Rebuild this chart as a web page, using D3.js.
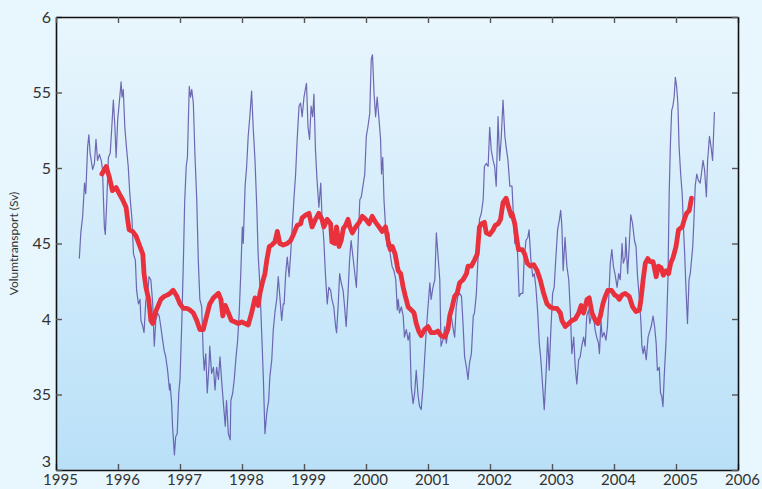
<!DOCTYPE html>
<html>
<head>
<meta charset="utf-8">
<script src="https://cdn.jsdelivr.net/npm/d3@7"></script>
<style>
  html, body { margin: 0; padding: 0; background: #e8f6fd; }
  svg { display: block; }
  .axis text { font-family: Lato, "Open Sans", sans-serif; fill: #333; }
  .axis path { stroke: #111; stroke-width: 1.6; }
  .axis line { stroke: #555; stroke-width: 1.4; }
</style>
</head>
<body>
<div id="chart"></div>
<script>
// daily volume transport (Sv)
var daily = [
  [1995.376,4.40],[1995.40,4.57],[1995.43,4.68],[1995.46,4.90],[1995.48,4.83],[1995.51,5.14],
  [1995.53,5.22],[1995.55,5.10],[1995.59,4.99],[1995.62,5.03],[1995.645,5.19],[1995.67,5.05],
  [1995.70,5.09],[1995.73,5.05],[1995.75,4.99],[1995.78,4.61],[1995.795,4.56],[1995.82,4.79],
  [1995.845,5.07],[1995.875,5.10],[1995.90,5.27],[1995.925,5.45],[1995.95,5.27],[1995.97,5.07],
  [1995.995,5.32],[1996.02,5.43],[1996.05,5.57],[1996.065,5.47],[1996.085,5.52],[1996.11,5.27],
  [1996.14,5.12],[1996.165,5.01],[1996.19,4.83],[1996.225,4.66],[1996.25,4.43],[1996.28,4.39],
  [1996.30,4.19],[1996.33,4.10],[1996.355,4.13],[1996.37,3.99],[1996.40,3.95],[1996.42,3.91],
  [1996.45,4.13],[1996.48,4.17],[1996.50,4.28],[1996.53,4.26],[1996.56,4.10],[1996.585,3.82],
  [1996.61,3.99],[1996.64,4.04],[1996.665,4.02],[1996.69,3.95],[1996.72,3.86],[1996.745,3.79],
  [1996.77,3.75],[1996.80,3.66],[1996.83,3.53],[1996.84,3.57],[1996.865,3.44],[1996.88,3.29],
  [1996.91,3.10],[1996.93,3.22],[1996.955,3.24],[1996.98,3.51],[1997.00,3.60],[1997.03,3.99],
  [1997.055,4.39],[1997.075,4.77],[1997.10,5.01],[1997.12,5.07],[1997.135,5.32],[1997.15,5.54],
  [1997.17,5.47],[1997.19,5.52],[1997.215,5.43],[1997.24,5.10],[1997.27,4.79],[1997.295,4.39],
  [1997.32,4.13],[1997.35,4.08],[1997.375,3.77],[1997.39,3.66],[1997.415,3.77],[1997.44,3.51],
  [1997.47,3.71],[1997.48,3.82],[1997.51,3.64],[1997.54,3.68],[1997.565,3.53],[1997.59,3.68],
  [1997.62,3.60],[1997.645,3.75],[1997.67,3.60],[1997.70,3.44],[1997.73,3.29],[1997.75,3.46],
  [1997.78,3.24],[1997.81,3.20],[1997.82,3.46],[1997.85,3.51],[1997.875,3.60],[1997.90,3.73],
  [1997.93,3.86],[1997.955,4.04],[1997.98,4.30],[1998.005,4.61],[1998.02,4.50],[1998.05,4.88],
  [1998.075,5.01],[1998.10,5.21],[1998.13,5.36],[1998.155,5.51],[1998.18,5.27],[1998.21,5.05],
  [1998.24,4.72],[1998.26,4.43],[1998.29,4.21],[1998.32,3.88],[1998.345,3.60],[1998.37,3.24],
  [1998.40,3.38],[1998.43,3.46],[1998.45,3.62],[1998.48,3.73],[1998.505,3.93],[1998.53,4.04],
  [1998.56,4.13],[1998.585,4.28],[1998.61,4.15],[1998.64,3.99],[1998.665,4.10],[1998.68,4.10],
  [1998.705,4.30],[1998.73,4.41],[1998.76,4.28],[1998.785,4.43],[1998.81,4.61],[1998.84,4.81],
  [1998.865,4.96],[1998.89,5.19],[1998.92,5.41],[1998.945,5.43],[1998.97,5.34],[1999.00,5.47],
  [1999.03,5.54],[1999.04,5.56],[1999.065,5.27],[1999.09,5.19],[1999.115,5.41],[1999.14,5.34],
  [1999.16,5.49],[1999.185,5.12],[1999.21,4.92],[1999.24,4.74],[1999.27,4.90],[1999.29,4.68],
  [1999.32,4.52],[1999.345,4.30],[1999.375,4.10],[1999.40,4.21],[1999.43,4.19],[1999.45,4.13],
  [1999.48,4.08],[1999.51,3.95],[1999.525,3.91],[1999.55,4.08],[1999.575,4.30],[1999.60,4.24],
  [1999.63,4.19],[1999.655,4.08],[1999.68,3.95],[1999.71,4.17],[1999.735,4.39],[1999.76,4.52],
  [1999.79,4.41],[1999.82,4.30],[1999.845,4.21],[1999.87,4.48],[1999.90,4.79],[1999.925,4.81],
  [1999.95,4.88],[1999.98,4.96],[2000.005,5.21],[2000.03,5.27],[2000.06,5.36],[2000.085,5.72],
  [2000.105,5.75],[2000.13,5.49],[2000.155,5.34],[2000.18,5.47],[2000.21,5.32],[2000.235,5.19],
  [2000.25,4.96],[2000.27,5.07],[2000.29,4.79],[2000.315,4.61],[2000.34,4.48],[2000.37,4.57],
  [2000.39,4.43],[2000.42,4.35],[2000.45,4.32],[2000.48,4.26],[2000.505,4.06],[2000.52,4.13],
  [2000.54,4.04],[2000.57,4.08],[2000.60,4.02],[2000.62,3.88],[2000.65,3.93],[2000.68,3.86],
  [2000.705,3.91],[2000.73,3.55],[2000.76,3.44],[2000.785,3.51],[2000.81,3.66],[2000.84,3.49],
  [2000.865,3.42],[2000.89,3.40],[2000.92,3.55],[2000.945,3.73],[2000.97,3.91],[2001.00,4.08],
  [2001.03,4.24],[2001.05,4.13],[2001.08,4.21],[2001.11,4.26],[2001.135,4.57],[2001.16,4.43],
  [2001.19,4.26],[2001.21,3.82],[2001.24,3.86],[2001.27,3.95],[2001.295,3.84],[2001.32,3.91],
  [2001.35,3.95],[2001.375,4.02],[2001.40,3.95],[2001.43,3.88],[2001.455,4.08],[2001.48,4.15],
  [2001.51,4.17],[2001.54,4.15],[2001.565,3.97],[2001.59,3.75],[2001.62,3.68],[2001.645,3.60],
  [2001.67,3.71],[2001.70,3.77],[2001.73,4.02],[2001.75,4.04],[2001.78,4.17],[2001.81,4.43],
  [2001.83,4.66],[2001.86,4.70],[2001.89,4.79],[2001.91,5.01],[2001.94,5.03],[2001.97,5.01],
  [2001.995,5.27],[2002.02,5.12],[2002.05,5.05],[2002.075,5.01],[2002.10,4.88],[2002.13,5.34],
  [2002.155,5.05],[2002.18,5.19],[2002.21,5.45],[2002.24,5.21],[2002.26,5.14],[2002.29,5.05],
  [2002.32,4.88],[2002.34,4.88],[2002.355,4.88],[2002.38,4.66],[2002.40,4.50],[2002.42,4.61],
  [2002.445,4.43],[2002.47,4.15],[2002.50,4.17],[2002.53,4.17],[2002.55,4.39],[2002.58,4.52],
  [2002.61,4.54],[2002.63,4.59],[2002.66,4.39],[2002.69,4.28],[2002.715,4.30],[2002.74,4.21],
  [2002.77,4.04],[2002.795,3.84],[2002.82,3.73],[2002.85,3.55],[2002.875,3.40],[2002.90,3.60],
  [2002.93,3.88],[2002.955,3.66],[2002.98,3.91],[2003.01,4.17],[2003.035,4.21],[2003.06,4.39],
  [2003.09,4.59],[2003.12,4.66],[2003.14,4.72],[2003.16,4.61],[2003.18,4.32],[2003.21,4.54],
  [2003.24,4.35],[2003.27,4.26],[2003.295,4.06],[2003.32,3.77],[2003.35,3.88],[2003.375,3.68],
  [2003.40,3.57],[2003.43,3.73],[2003.455,3.75],[2003.48,3.82],[2003.51,3.88],[2003.535,3.82],
  [2003.56,4.02],[2003.59,4.06],[2003.61,3.97],[2003.645,4.04],[2003.67,4.02],[2003.695,3.93],
  [2003.72,3.88],[2003.75,3.84],[2003.765,3.77],[2003.79,3.99],[2003.81,3.88],[2003.84,3.91],
  [2003.87,3.86],[2003.895,3.95],[2003.915,4.13],[2003.94,4.37],[2003.965,4.46],[2003.99,4.35],
  [2004.015,4.30],[2004.05,4.21],[2004.075,4.30],[2004.10,4.26],[2004.13,4.50],[2004.15,4.37],
  [2004.18,4.41],[2004.19,4.54],[2004.22,4.30],[2004.245,4.48],[2004.27,4.69],[2004.30,4.63],
  [2004.33,4.52],[2004.355,4.48],[2004.38,4.28],[2004.41,4.13],[2004.435,3.97],[2004.45,3.82],
  [2004.47,3.77],[2004.49,3.82],[2004.52,3.73],[2004.55,3.88],[2004.57,3.91],[2004.60,3.95],
  [2004.63,4.02],[2004.655,3.95],[2004.68,3.84],[2004.70,3.66],[2004.73,3.68],[2004.75,3.51],
  [2004.77,3.49],[2004.79,3.42],[2004.81,3.62],[2004.84,3.86],[2004.87,4.26],[2004.89,4.83],
  [2004.91,5.16],[2004.93,5.38],[2004.95,5.41],[2004.97,5.47],[2004.99,5.60],[2005.01,5.54],
  [2005.03,5.43],[2005.05,5.14],[2005.075,4.96],[2005.10,4.83],[2005.12,4.61],[2005.14,4.43],
  [2005.16,4.21],[2005.185,3.97],[2005.21,4.26],[2005.23,4.30],[2005.25,4.39],[2005.27,4.48],
  [2005.29,4.66],[2005.31,4.88],[2005.335,4.96],[2005.36,4.92],[2005.39,4.90],[2005.41,4.96],
  [2005.435,5.05],[2005.46,4.99],[2005.49,4.81],[2005.51,5.05],[2005.54,5.21],[2005.565,5.14],
  [2005.59,5.05],[2005.62,5.37]
];

// running mean (Sv)
var smoothed = [
  [1995.74,4.96],[1995.81,5.01],[1995.86,4.94],[1995.91,4.85],[1995.97,4.87],[1996.02,4.83],
  [1996.075,4.79],[1996.13,4.74],[1996.155,4.66],[1996.18,4.59],[1996.235,4.58],[1996.29,4.55],
  [1996.345,4.49],[1996.40,4.43],[1996.42,4.30],[1996.45,4.21],[1996.495,4.13],[1996.53,3.99],
  [1996.56,3.97],[1996.60,4.04],[1996.64,4.08],[1996.69,4.13],[1996.745,4.15],[1996.80,4.16],
  [1996.84,4.17],[1996.89,4.19],[1996.95,4.15],[1997.00,4.10],[1997.055,4.07],[1997.11,4.07],
  [1997.16,4.06],[1997.215,4.04],[1997.27,3.99],[1997.32,3.93],[1997.375,3.93],[1997.43,4.02],
  [1997.48,4.10],[1997.54,4.14],[1997.62,4.17],[1997.66,4.13],[1997.69,4.02],[1997.73,4.09],
  [1997.78,4.04],[1997.83,3.99],[1997.89,3.98],[1997.94,3.97],[1997.995,3.98],[1998.05,3.97],
  [1998.10,3.96],[1998.155,4.04],[1998.21,4.14],[1998.26,4.09],[1998.29,4.17],[1998.335,4.25],
  [1998.37,4.30],[1998.40,4.39],[1998.44,4.48],[1998.48,4.49],[1998.53,4.51],[1998.57,4.58],
  [1998.61,4.50],[1998.665,4.49],[1998.73,4.50],[1998.785,4.52],[1998.84,4.57],[1998.89,4.62],
  [1998.945,4.63],[1998.97,4.67],[1999.03,4.69],[1999.08,4.70],[1999.13,4.61],[1999.185,4.66],
  [1999.24,4.70],[1999.29,4.66],[1999.32,4.61],[1999.375,4.66],[1999.43,4.63],[1999.45,4.51],
  [1999.495,4.50],[1999.525,4.61],[1999.565,4.48],[1999.60,4.52],[1999.635,4.60],[1999.67,4.62],
  [1999.71,4.66],[1999.74,4.61],[1999.78,4.57],[1999.835,4.61],[1999.89,4.64],[1999.94,4.68],
  [1999.995,4.66],[2000.05,4.63],[2000.10,4.68],[2000.155,4.64],[2000.21,4.61],[2000.26,4.58],
  [2000.315,4.61],[2000.355,4.52],[2000.39,4.46],[2000.425,4.48],[2000.47,4.43],[2000.505,4.35],
  [2000.52,4.32],[2000.56,4.30],[2000.60,4.21],[2000.635,4.15],[2000.68,4.08],[2000.73,4.06],
  [2000.775,4.04],[2000.81,3.97],[2000.85,3.92],[2000.89,3.89],[2000.945,3.93],[2001.00,3.95],
  [2001.05,3.91],[2001.11,3.91],[2001.16,3.92],[2001.21,3.89],[2001.27,3.88],[2001.32,3.93],
  [2001.35,4.02],[2001.39,4.08],[2001.43,4.15],[2001.47,4.17],[2001.51,4.24],[2001.565,4.26],
  [2001.62,4.30],[2001.645,4.35],[2001.70,4.35],[2001.75,4.39],[2001.795,4.43],[2001.83,4.61],
  [2001.86,4.63],[2001.91,4.64],[2001.94,4.57],[2001.995,4.56],[2002.05,4.59],[2002.085,4.62],
  [2002.13,4.63],[2002.17,4.66],[2002.21,4.77],[2002.26,4.80],[2002.30,4.74],[2002.345,4.68],
  [2002.355,4.70],[2002.40,4.63],[2002.435,4.52],[2002.46,4.46],[2002.52,4.46],[2002.56,4.43],
  [2002.60,4.37],[2002.65,4.35],[2002.705,4.36],[2002.76,4.32],[2002.81,4.26],[2002.865,4.17],
  [2002.92,4.10],[2002.97,4.08],[2003.03,4.07],[2003.08,4.07],[2003.135,4.04],[2003.16,3.99],
  [2003.215,3.95],[2003.27,3.97],[2003.32,3.99],[2003.375,4.00],[2003.43,4.04],[2003.47,4.09],
  [2003.51,4.04],[2003.565,4.13],[2003.60,4.14],[2003.645,4.04],[2003.70,3.99],[2003.74,3.97],
  [2003.78,4.02],[2003.82,4.10],[2003.86,4.15],[2003.90,4.19],[2003.96,4.19],[2004.01,4.16],
  [2004.05,4.15],[2004.085,4.13],[2004.13,4.16],[2004.18,4.17],[2004.245,4.15],[2004.30,4.08],
  [2004.355,4.05],[2004.41,4.06],[2004.435,4.13],[2004.47,4.26],[2004.505,4.37],[2004.545,4.40],
  [2004.58,4.38],[2004.63,4.38],[2004.68,4.28],[2004.715,4.35],[2004.76,4.34],[2004.795,4.29],
  [2004.84,4.32],[2004.88,4.30],[2004.915,4.37],[2004.955,4.41],[2005.00,4.48],[2005.04,4.59],
  [2005.10,4.61],[2005.135,4.66],[2005.17,4.70],[2005.215,4.72],[2005.25,4.80]
];

var yearTicks = d3.range(1995, 2007);
var valueTicks = [6, 5.5, 5, 4.5, 4, 3.5, 3];
var valueLabels = ["6", "55", "5", "45", "4", "35", "3"];
var yTitle = "Volumtransport (Sv)";

var width = 762,
    height = 489,
    margin = {top: 17, right: 24, bottom: 19, left: 56},
    w = width - margin.left - margin.right,
    h = height - margin.top - margin.bottom;

var svg = d3.select("#chart").append("svg")
    .attr("width", width)
    .attr("height", height);

var defs = svg.append("defs");
var grad = defs.append("linearGradient")
    .attr("id", "bg").attr("x1", 0).attr("y1", 0).attr("x2", 0).attr("y2", 1);
grad.append("stop").attr("offset", "0%").attr("stop-color", "#e9f6fd");
grad.append("stop").attr("offset", "100%").attr("stop-color", "#b9e0f8");

var g = svg.append("g")
    .attr("transform", "translate(" + margin.left + "," + margin.top + ")");

var x = d3.scaleLinear().domain([1995, 2006]).range([0, w]),
    y = d3.scaleLinear().domain([3, 6]).range([h, 0]);

g.append("rect")
    .attr("width", w).attr("height", h)
    .attr("fill", "url(#bg)");

var line = d3.line()
    .x(function(d) { return x(d[0]); })
    .y(function(d) { return y(d[1]); });

g.append("path")
    .datum(daily)
    .attr("fill", "none")
    .attr("stroke", "#5b50a6")
    .attr("stroke-opacity", 0.85)
    .attr("stroke-width", 1.2)
    .attr("stroke-linejoin", "round")
    .attr("d", line);

g.append("path")
    .datum(smoothed)
    .attr("fill", "none")
    .attr("stroke", "#e8313c")
    .attr("stroke-width", 4.8)
    .attr("stroke-linejoin", "round")
    .attr("stroke-linecap", "round")
    .attr("d", line);

// axes, ticks pointing inward
var xAxis = d3.axisBottom(x).tickValues(yearTicks).tickFormat(d3.format("d"))
    .tickSizeInner(-6).tickSizeOuter(0).tickPadding(4);
var yAxis = d3.axisLeft(y).tickValues(valueTicks)
    .tickFormat(function(d, i) { return valueLabels[i]; })
    .tickSizeInner(-6).tickSizeOuter(0).tickPadding(5);

var gx = g.append("g").attr("class", "axis")
    .attr("transform", "translate(0," + h + ")")
    .call(xAxis);
gx.selectAll("text").attr("font-size", 15).attr("dx", 4);

var gy = g.append("g").attr("class", "axis").call(yAxis);
gy.selectAll("text").attr("font-size", 16)
    .attr("dy", function(d) { return d === 3 ? "-0.2em" : "0.32em"; });

g.append("g").attr("class", "axis")
    .call(d3.axisTop(x).tickValues(yearTicks).tickFormat("").tickSizeInner(-6).tickSizeOuter(0));
g.append("g").attr("class", "axis")
    .attr("transform", "translate(" + w + ",0)")
    .call(d3.axisRight(y).tickValues(valueTicks).tickFormat("").tickSizeInner(-6).tickSizeOuter(0));

svg.append("text")
    .attr("transform", "translate(18," + (margin.top + h / 2) + ") rotate(-90)")
    .attr("text-anchor", "middle")
    .attr("font-family", "Lato, 'Open Sans', sans-serif")
    .attr("font-size", 12)
    .attr("fill", "#333")
    .text(yTitle);
</script>
</body>
</html>
